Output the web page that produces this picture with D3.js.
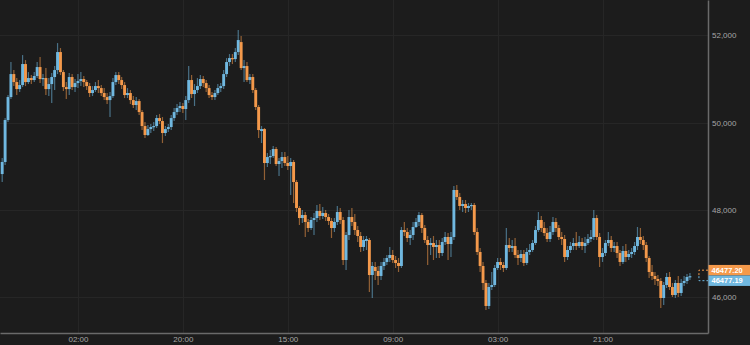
<!DOCTYPE html>
<html>
<head>
<meta charset="utf-8">
<script src="https://cdn.jsdelivr.net/npm/d3@7"></script>
<style>
	html, body { margin: 0; padding: 0; background: #1c1c1c; overflow: hidden; }
	svg { display: block; font-family: 'Liberation Sans', Arial, sans-serif; }
</style>
</head>
<body>
<svg id="chart" width="750" height="345"></svg>
<script>
/* global d3 */

// 30 Minuten Kerzen, Index 0 .. 236
var candleOpen = [
	48820, 49096, 50059, 50586, 51113, 50930, 50769, 50861, 51343, 50930,
	51022, 50976, 51068, 51274, 50999, 51022, 50769, 50884, 51045, 51205,
	51618, 51159, 50815, 50769, 51045, 50815, 50907, 50953, 50999, 50930,
	50838, 50678, 50747, 50838, 50792, 50678, 50586, 50517, 50609, 50930,
	51090, 50976, 50861, 50632, 50678, 50517, 50403, 50494, 50242, 49921,
	49715, 49852, 49898, 49921, 50104, 50036, 49761, 49852, 49898, 50104,
	50242, 50334, 50380, 50311, 50517, 50976, 50655, 50747, 50838, 50999,
	50907, 50792, 50632, 50586, 50678, 50792, 50838, 51113, 51389, 51480,
	51457, 51618, 51847, 51251, 51297, 50976, 51045, 50747, 50357, 49806,
	49852, 49073, 49210, 49233, 49394, 49050, 49118, 49210, 49073, 49004,
	49096, 48637, 48041, 47811, 47880, 47720, 47582, 47766, 47811, 47972,
	47857, 47926, 47834, 47743, 47582, 47720, 47949, 47766, 46848, 47422,
	47834, 47720, 47536, 47399, 47147, 47284, 47307, 46504, 46688, 46596,
	46482, 46711, 46803, 46894, 46963, 46848, 46780, 46711, 47536, 47490,
	47353, 47422, 47605, 47720, 47880, 47582, 47307, 47192, 47238, 47147,
	47192, 47009, 47261, 47376, 47215, 47376, 48454, 48293, 48087, 48132,
	48041, 48087, 48110, 47490, 47032, 46711, 46321, 45794, 46229, 46275,
	46665, 46803, 46734, 46665, 47192, 47124, 47169, 46963, 46894, 46986,
	46780, 47032, 47078, 47238, 47536, 47766, 47582, 47468, 47330, 47490,
	47720, 47582, 47376, 47330, 46917, 47078, 47169, 47238, 47169, 47261,
	47169, 47238, 47330, 47376, 47811, 47376, 46917, 47009, 47238, 47307,
	47124, 47169, 47009, 46803, 47055, 46917, 46986, 47032, 47169, 47376,
	47307, 47192, 46894, 46573, 46482, 46413, 46367, 45977, 46275, 46459,
	46229, 46046, 46321, 46092, 46321, 46367, 46459
];
var candleHigh = [
	49187, 50104, 50632, 51389, 51205, 51022, 50976, 51549, 51434, 51159,
	51090, 51159, 51389, 51503, 51113, 51251, 51022, 51136, 51297, 51824,
	51710, 51205, 50930, 51136, 51113, 50999, 51113, 51159, 51068, 50976,
	50907, 50838, 50930, 50976, 50861, 50792, 50678, 50701, 51022, 51159,
	51159, 51045, 50930, 50792, 50747, 50609, 50586, 50540, 50288, 50013,
	49944, 49967, 50013, 50173, 50196, 50127, 49921, 49967, 50173, 50334,
	50425, 50471, 50448, 50609, 51297, 51090, 50884, 51022, 51090, 51068,
	50976, 50861, 50701, 50747, 50884, 50907, 51205, 51480, 51572, 51572,
	51710, 52122, 51985, 51434, 51389, 51113, 51113, 50792, 50403, 49921,
	49875, 49302, 49371, 49462, 49440, 49187, 49325, 49325, 49233, 49187,
	49141, 48683, 48087, 47995, 47949, 47789, 47834, 47926, 48110, 48132,
	48064, 47995, 47903, 47811, 47811, 48087, 48041, 47834, 47490, 47995,
	48041, 47903, 47628, 47490, 47399, 47399, 47353, 46803, 46803, 46711,
	46803, 46894, 46963, 47147, 47078, 46940, 46894, 47605, 47720, 47582,
	47536, 47720, 47811, 47949, 47926, 47651, 47399, 47353, 47399, 47307,
	47307, 47353, 47490, 47468, 47490, 48545, 48568, 48385, 48224, 48224,
	48155, 48155, 48155, 47582, 47124, 46803, 46390, 46321, 46573, 46734,
	46894, 46894, 46803, 47582, 47353, 47307, 47353, 47078, 47078, 47078,
	47124, 47215, 47307, 47628, 47949, 47857, 47720, 47582, 47628, 47834,
	47811, 47651, 47490, 47422, 47169, 47261, 47353, 47490, 47399, 47353,
	47376, 47445, 47536, 47995, 47880, 47468, 47124, 47307, 47490, 47399,
	47261, 47261, 47078, 47169, 47215, 47078, 47124, 47261, 47605, 47582,
	47399, 47261, 46940, 46734, 46573, 46504, 46436, 46344, 46550, 46573,
	46321, 46390, 46482, 46413, 46482, 46527, 46550
];
var candleLow = [
	48637, 49027, 50013, 50540, 50838, 50632, 50701, 50815, 50838, 50884,
	50884, 50930, 51022, 50907, 50838, 50632, 50609, 50448, 50747, 51113,
	51090, 50724, 50540, 50632, 50747, 50701, 50792, 50838, 50815, 50747,
	50586, 50609, 50701, 50678, 50609, 50517, 50425, 50127, 50563, 50861,
	50884, 50769, 50563, 50563, 50425, 50334, 50288, 50173, 49829, 49646,
	49692, 49761, 49806, 49875, 49967, 49531, 49692, 49783, 49829, 50036,
	50173, 50242, 50219, 50059, 50448, 50563, 50380, 50678, 50769, 50815,
	50701, 50563, 50517, 50517, 50632, 50701, 50769, 51045, 51297, 51343,
	51389, 51549, 51205, 50930, 50930, 50884, 50678, 50288, 49646, 49531,
	48683, 48981, 49050, 49187, 49004, 48775, 48958, 49004, 48912, 48339,
	48155, 47949, 47651, 47697, 47376, 47490, 47536, 47422, 47720, 47766,
	47789, 47743, 47651, 47353, 47490, 47651, 47674, 46734, 46619, 47307,
	47628, 47422, 47261, 47032, 47055, 47078, 46115, 45977, 46390, 46275,
	46390, 46619, 46734, 46803, 46780, 46665, 46573, 46665, 47399, 47261,
	47192, 47307, 47582, 47628, 47468, 47238, 46734, 46963, 46848, 46894,
	46894, 46940, 47192, 46848, 46917, 47307, 48224, 47995, 47949, 47926,
	47949, 47995, 47422, 46963, 46573, 46161, 45702, 45725, 46161, 46229,
	46619, 46619, 46573, 46619, 47032, 47032, 46894, 46734, 46803, 46711,
	46734, 46963, 47032, 47192, 47490, 47490, 47399, 47261, 47261, 47422,
	47490, 47307, 47192, 46803, 46848, 47009, 47078, 47078, 47124, 47078,
	47009, 47192, 47261, 47307, 47307, 46688, 46803, 46940, 47169, 47032,
	47032, 46894, 46711, 46757, 46803, 46848, 46894, 46963, 47078, 47215,
	47078, 46803, 46436, 46390, 46275, 46252, 45748, 45817, 46206, 46161,
	46000, 45977, 46000, 46023, 46252, 46298, 46390
];
var candleClose = [
	49096, 50059, 50586, 51113, 50930, 50769, 50861, 51343, 50930, 51022,
	50976, 51068, 51274, 50999, 51022, 50769, 50884, 51045, 51205, 51618,
	51159, 50815, 50769, 51045, 50815, 50907, 50953, 50999, 50930, 50838,
	50678, 50747, 50838, 50792, 50678, 50586, 50517, 50609, 50930, 51090,
	50976, 50861, 50632, 50678, 50517, 50403, 50494, 50242, 49921, 49715,
	49852, 49898, 49921, 50104, 50036, 49761, 49852, 49898, 50104, 50242,
	50334, 50380, 50311, 50517, 50976, 50655, 50747, 50838, 50999, 50907,
	50792, 50632, 50586, 50678, 50792, 50838, 51113, 51389, 51480, 51457,
	51618, 51893, 51251, 51297, 50976, 51045, 50747, 50357, 49829, 49852,
	49073, 49210, 49233, 49394, 49050, 49118, 49210, 49073, 49004, 49096,
	48637, 48041, 47811, 47880, 47720, 47582, 47766, 47811, 47972, 47857,
	47926, 47834, 47743, 47582, 47720, 47949, 47766, 46848, 47422, 47834,
	47720, 47536, 47399, 47147, 47307, 47330, 46504, 46711, 46596, 46482,
	46711, 46803, 46894, 46963, 46848, 46780, 46711, 47536, 47490, 47353,
	47422, 47605, 47720, 47880, 47582, 47307, 47192, 47238, 47147, 47192,
	47009, 47261, 47376, 47215, 47376, 48454, 48293, 48087, 48132, 48041,
	48087, 48110, 47490, 47032, 46711, 46321, 45794, 46229, 46275, 46665,
	46803, 46734, 46665, 47192, 47124, 47169, 46963, 46894, 46986, 46780,
	47032, 47078, 47238, 47536, 47766, 47582, 47468, 47330, 47490, 47720,
	47582, 47376, 47330, 46917, 47078, 47169, 47238, 47169, 47261, 47169,
	47238, 47330, 47376, 47811, 47376, 46917, 47009, 47238, 47307, 47124,
	47169, 47009, 46803, 47055, 46917, 46986, 47032, 47169, 47376, 47307,
	47192, 46894, 46573, 46482, 46413, 46367, 45977, 46275, 46459, 46229,
	46046, 46321, 46092, 46321, 46367, 46459, 46477.19
];

var tickIndex = [26, 62, 98, 134, 170, 206];
var tickLabels = ['02:00', '20:00', '15:00', '09:00', '03:00', '21:00'];
var priceTicks = [46000, 48000, 50000, 52000];
var askPrice = 46477.20;
var bidPrice = 46477.19;

var farbe = {
	bg: '#1c1c1c',
	grid: '#262626',
	axis: '#6a6a6a',
	text: '#a6a6a6',
	up: '#70b8e0',
	down: '#f4994b'
};

var plotW = 708;
var plotH = 333;
var svg = d3.select('#chart');

svg.append('rect').attr('width', 750).attr('height', 345).attr('fill', farbe.bg);

var x = d3.scaleLinear().domain([-0.75, 242.2]).range([0, plotW]);
var y = d3.scaleLinear().domain([45174, 52812]).range([plotH, 0]);

// Gitter
var grid = svg.append('g');
grid.selectAll('line.h').data(priceTicks).enter().append('line')
	.attr('x1', 0).attr('x2', plotW)
	.attr('y1', d => Math.round(y(d)) + 0.5).attr('y2', d => Math.round(y(d)) + 0.5)
	.attr('stroke', farbe.grid);
grid.selectAll('line.v').data(tickIndex).enter().append('line')
	.attr('y1', 0).attr('y2', plotH)
	.attr('x1', d => Math.round(x(d)) + 0.5).attr('x2', d => Math.round(x(d)) + 0.5)
	.attr('stroke', farbe.grid);

// Kerzen
svg.append('clipPath').attr('id', 'plotclip')
	.append('rect').attr('width', plotW).attr('height', plotH);

var candles = candleClose.map(function (c, i) {
	return {i: i, o: candleOpen[i], h: candleHigh[i], l: candleLow[i], c: c};
});
var gCandles = svg.append('g').attr('clip-path', 'url(#plotclip)');
var bodyW = 2.9;

gCandles.selectAll('line.wick').data(candles).enter().append('line')
	.attr('x1', d => x(d.i)).attr('x2', d => x(d.i))
	.attr('y1', d => y(d.h)).attr('y2', d => y(d.l))
	.attr('stroke', d => d.c >= d.o ? farbe.up : farbe.down)
	.attr('stroke-width', 1.2)
	.attr('stroke-opacity', 0.55);

gCandles.selectAll('rect.body').data(candles).enter().append('rect')
	.attr('x', d => x(d.i) - bodyW / 2)
	.attr('width', bodyW)
	.attr('y', d => y(Math.max(d.o, d.c)))
	.attr('height', d => Math.max(1.2, Math.abs(y(d.o) - y(d.c))))
	.attr('fill', d => d.c >= d.o ? farbe.up : farbe.down);

// Achsen
var yAxis = svg.append('g')
	.attr('transform', 'translate(' + plotW + ',0)')
	.call(d3.axisRight(y).tickValues(priceTicks).tickFormat(d3.format(',')).tickSize(0).tickSizeOuter(0).tickPadding(4));
var xAxis = svg.append('g')
	.attr('transform', 'translate(0,' + plotH + ')')
	.call(d3.axisBottom(x).tickValues(tickIndex).tickFormat((d, i) => tickLabels[i]).tickSize(0).tickSizeOuter(0).tickPadding(3));

[yAxis, xAxis].forEach(function (a) {
	a.select('.domain').attr('stroke', farbe.axis).attr('stroke-width', 1.5);
	a.selectAll('text').attr('fill', farbe.text).style('font-size', '8px')
		.style('font-family', "'Liberation Sans', Arial, sans-serif");
});

// Preis-Markierung rechts
var yP = y(bidPrice);
var tags = [
	{txt: askPrice.toFixed(2), color: farbe.down, cy: yP - 6},
	{txt: bidPrice.toFixed(2), color: farbe.up, cy: yP + 4.5}
];
svg.append('path')
	.attr('d', 'M' + plotW + ',' + tags[0].cy + 'H' + (x(candles.length - 1) + 9) + 'V' + yP)
	.attr('fill', 'none').attr('stroke', farbe.down).attr('stroke-dasharray', '2,2');
svg.append('path')
	.attr('d', 'M' + (x(candles.length - 1) + 9) + ',' + yP + 'V' + tags[1].cy + 'H' + plotW)
	.attr('fill', 'none').attr('stroke', farbe.up).attr('stroke-dasharray', '2,2');

var gTags = svg.append('g');
gTags.selectAll('rect').data(tags).enter().append('rect')
	.attr('x', plotW + 0.5).attr('width', 41.5)
	.attr('y', d => d.cy - 5.25).attr('height', 10.5)
	.attr('fill', d => d.color);
gTags.selectAll('text').data(tags).enter().append('text')
	.attr('x', plotW + 3.5).attr('y', d => d.cy)
	.attr('dy', '0.35em')
	.attr('fill', '#ffffff')
	.style('font-size', '7.5px')
	.style('font-weight', 'bold')
	.text(d => d.txt);
</script>
</body>
</html>
